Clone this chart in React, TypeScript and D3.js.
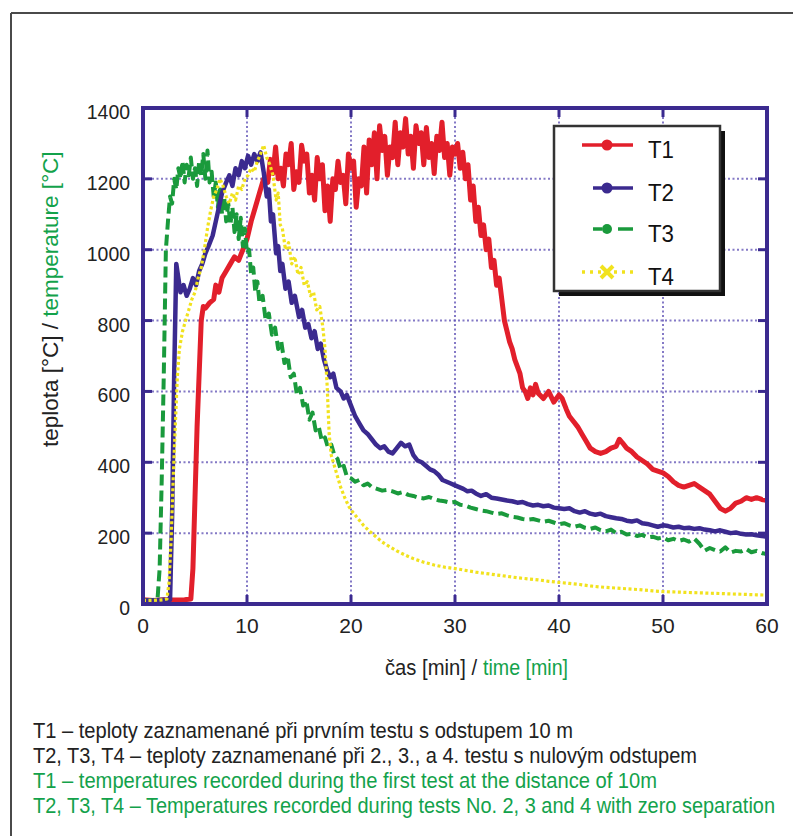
import React from "react";
import * as d3 from "d3";

// ---------------- DATA ----------------
const X_TICKS = [0, 10, 20, 30, 40, 50, 60];
const Y_TICKS = [0, 200, 400, 600, 800, 1000, 1200, 1400];
const SERIES_NAMES = ["T1", "T2", "T3", "T4"];

// T1 – [time min, temperature °C]
const T1: [number, number][] = [
  [0, 12], [1, 10], [2, 12], [3, 11], [4, 12], [4.6, 14], [4.8, 100], [5.0, 300], [5.2, 500], [5.4, 650],
  [5.6, 800], [5.8, 840], [6.0, 835], [6.4, 850], [6.8, 860], [7.0, 900], [7.3, 880], [7.6, 920], [8.0, 940],
  [8.4, 960], [8.8, 980], [9.2, 970], [9.6, 1000], [10.0, 1030], [10.4, 1080], [10.8, 1120], [11.2, 1160],
  [11.6, 1200], [12.0, 1190], [12.25, 1255], [12.5, 1215], [12.75, 1290], [13.0, 1200], [13.25, 1230],
  [13.5, 1180], [13.75, 1270], [14.0, 1240], [14.25, 1300], [14.5, 1170], [14.75, 1220], [15.0, 1190],
  [15.25, 1295], [15.5, 1250], [15.75, 1270], [16.0, 1160], [16.25, 1210], [16.5, 1140], [16.75, 1260],
  [17.0, 1200], [17.25, 1240], [17.5, 1110], [17.75, 1180], [18.0, 1080], [18.25, 1200], [18.5, 1170],
  [18.75, 1250], [19.0, 1190], [19.25, 1210], [19.5, 1130], [19.75, 1270], [20.0, 1230], [20.25, 1250],
  [20.5, 1120], [20.75, 1200], [21.0, 1180], [21.25, 1290], [21.5, 1160], [21.75, 1310], [22.0, 1240],
  [22.25, 1330], [22.5, 1200], [22.75, 1350], [23.0, 1280], [23.25, 1320], [23.5, 1210], [23.75, 1290],
  [24.0, 1260], [24.25, 1360], [24.5, 1240], [24.75, 1330], [25.0, 1290], [25.25, 1370], [25.5, 1270],
  [25.75, 1320], [26.0, 1230], [26.25, 1350], [26.5, 1300], [26.75, 1330], [27.0, 1240], [27.25, 1345],
  [27.5, 1260], [27.75, 1300], [28.0, 1215], [28.25, 1320], [28.5, 1280], [28.75, 1360], [29.0, 1260],
  [29.25, 1300], [29.5, 1210], [29.75, 1290], [30.0, 1270], [30.25, 1300], [30.5, 1230], [30.75, 1275],
  [31.0, 1200], [31.25, 1240], [31.5, 1140], [31.75, 1180], [32.0, 1080], [32.25, 1120], [32.5, 1040],
  [32.75, 1070], [33.0, 1000], [33.25, 1030], [33.5, 950], [33.75, 970], [34.0, 900], [34.25, 920],
  [34.5, 860], [34.75, 800], [35.0, 770], [35.25, 740], [35.5, 720], [35.75, 690], [36.0, 670], [36.25, 650],
  [36.5, 610], [36.75, 600], [37.0, 580], [37.25, 610], [37.5, 590], [37.75, 620], [38.0, 595], [38.5, 580],
  [39.0, 600], [39.5, 570], [40.0, 590], [40.3, 580], [40.7, 550], [41.0, 530], [41.4, 515], [41.8, 500],
  [42.2, 480], [42.6, 460], [43.0, 440], [43.5, 430], [44.0, 425], [44.5, 430], [45.0, 440], [45.5, 445],
  [45.8, 465], [46.1, 455], [46.5, 440], [47.0, 430], [47.5, 415], [48.0, 405], [48.5, 395], [49.0, 380],
  [49.5, 375], [50.0, 370], [50.5, 360], [51.0, 345], [51.5, 335], [52.0, 330], [52.5, 335], [53.0, 340],
  [53.5, 330], [54.0, 320], [54.5, 310], [55.0, 290], [55.5, 270], [56.0, 262], [56.5, 270], [57.0, 285],
  [57.5, 290], [58.0, 300], [58.5, 295], [59.0, 300], [59.5, 295], [60.0, 292],
];

const T2: [number, number][] = [
  [0, 10], [1, 10], [2, 12], [2.6, 12], [2.8, 250], [3.0, 650], [3.2, 960], [3.4, 920], [3.6, 880],
  [3.9, 900], [4.2, 870], [4.5, 890], [4.8, 920], [5.1, 900], [5.4, 940], [5.7, 960], [6.0, 990],
  [6.3, 1010], [6.7, 1040], [7.0, 1080], [7.3, 1120], [7.6, 1160], [8.0, 1190], [8.3, 1210], [8.6, 1180],
  [8.9, 1230], [9.2, 1210], [9.5, 1250], [9.8, 1230], [10.1, 1265], [10.4, 1240], [10.7, 1270],
  [11.0, 1250], [11.3, 1275], [11.6, 1220], [11.9, 1150], [12.1, 1170], [12.3, 1080], [12.5, 1100],
  [12.8, 990], [13.0, 1010], [13.2, 940], [13.4, 960], [13.7, 890], [14.0, 910], [14.3, 850], [14.6, 870],
  [15.0, 810], [15.3, 830], [15.6, 780], [15.9, 790], [16.2, 750], [16.5, 770], [16.8, 720], [17.1, 735],
  [17.4, 690], [17.7, 660], [18.0, 640], [18.3, 650], [18.6, 610], [19.0, 600], [19.3, 580], [19.6, 590],
  [20.0, 560], [20.4, 530], [20.8, 510], [21.2, 490], [21.6, 480], [22.0, 465], [22.4, 450], [22.8, 440],
  [23.2, 445], [23.6, 430], [24.0, 425], [24.4, 440], [24.8, 455], [25.2, 445], [25.6, 450], [26.0, 420],
  [26.4, 405], [26.8, 400], [27.2, 390], [27.6, 380], [28.0, 375], [28.4, 365], [28.8, 350], [29.2, 345],
  [29.6, 340], [30.0, 335], [30.4, 330], [30.8, 325], [31.2, 318], [31.6, 320], [32.0, 312], [32.5, 305],
  [33.0, 310], [33.5, 300], [34.0, 298], [34.5, 295], [35.0, 292], [35.5, 290], [36.0, 286], [36.5, 288],
  [37.0, 282], [37.5, 278], [38.0, 280], [38.5, 276], [39.0, 278], [39.5, 272], [40.0, 270], [40.5, 268],
  [41.0, 270], [41.5, 262], [42.0, 258], [42.5, 262], [43.0, 255], [43.5, 252], [44.0, 255], [44.5, 248],
  [45.0, 245], [45.5, 242], [46.0, 240], [46.5, 235], [47.0, 233], [47.5, 236], [48.0, 228], [48.5, 226],
  [49.0, 222], [49.5, 218], [50.0, 222], [50.5, 220], [51.0, 216], [51.5, 218], [52.0, 214], [52.5, 215],
  [53.0, 212], [53.5, 214], [54.0, 210], [54.5, 208], [55.0, 205], [55.5, 208], [56.0, 204], [56.5, 200],
  [57.0, 202], [57.5, 198], [58.0, 196], [58.5, 197], [59.0, 194], [59.5, 192], [60.0, 190],
];

const T3: [number, number][] = [
  [0, 10], [1.0, 12], [1.4, 15], [1.6, 100], [1.8, 350], [2.0, 650], [2.2, 1000], [2.4, 1080], [2.6, 1150],
  [2.8, 1130], [3.0, 1200], [3.2, 1170], [3.4, 1230], [3.6, 1200], [3.8, 1250], [4.0, 1190], [4.2, 1240],
  [4.4, 1210], [4.6, 1260], [4.8, 1200], [5.0, 1230], [5.2, 1180], [5.4, 1250], [5.6, 1210], [5.8, 1270],
  [6.0, 1200], [6.2, 1280], [6.4, 1190], [6.6, 1220], [6.8, 1150], [7.0, 1190], [7.2, 1120], [7.4, 1170],
  [7.6, 1100], [7.8, 1150], [8.0, 1080], [8.2, 1130], [8.4, 1070], [8.6, 1120], [8.8, 1050], [9.0, 1100],
  [9.2, 1030], [9.4, 1090], [9.6, 1010], [9.8, 1060], [10.0, 990], [10.2, 1000], [10.4, 930], [10.6, 950],
  [10.8, 880], [11.0, 910], [11.2, 850], [11.5, 870], [11.8, 800], [12.1, 820], [12.4, 760], [12.7, 780],
  [13.0, 720], [13.3, 740], [13.6, 680], [13.9, 700], [14.2, 640], [14.5, 650], [14.8, 590], [15.1, 610],
  [15.4, 560], [15.7, 575], [16.0, 520], [16.3, 540], [16.6, 490], [16.9, 500], [17.2, 460], [17.5, 470],
  [17.8, 440], [18.1, 450], [18.4, 420], [18.7, 410], [19.0, 380], [19.3, 390], [19.6, 360], [20.0, 355],
  [20.4, 345], [20.8, 350], [21.2, 335], [21.6, 340], [22.0, 330], [22.5, 325], [23.0, 320], [23.5, 322],
  [24.0, 318], [24.5, 312], [25.0, 316], [25.5, 308], [26.0, 305], [26.5, 300], [27.0, 298], [27.5, 302],
  [28.0, 296], [28.5, 292], [29.0, 290], [29.5, 286], [30.0, 288], [30.5, 280], [31.0, 278], [31.5, 272],
  [32.0, 268], [32.5, 264], [33.0, 262], [33.5, 258], [34.0, 254], [34.5, 256], [35.0, 250], [35.5, 246],
  [36.0, 244], [36.5, 240], [37.0, 238], [37.5, 240], [38.0, 236], [38.5, 232], [39.0, 235], [39.5, 230],
  [40.0, 225], [40.5, 228], [41.0, 222], [41.5, 218], [42.0, 222], [42.5, 215], [43.0, 212], [43.5, 216],
  [44.0, 208], [44.5, 205], [45.0, 210], [45.5, 200], [46.0, 204], [46.5, 196], [47.0, 198], [47.5, 192],
  [48.0, 195], [48.5, 188], [49.0, 190], [49.5, 185], [50.0, 188], [50.5, 180], [51.0, 184], [51.5, 178],
  [52.0, 182], [52.5, 176], [53.0, 185], [53.5, 170], [54.0, 150], [54.5, 158], [55.0, 152], [55.5, 148],
  [56.0, 160], [56.5, 145], [57.0, 150], [57.5, 148], [58.0, 155], [58.5, 146], [59.0, 150], [59.5, 144],
  [60.0, 140],
];

const T4: [number, number][] = [
  [0, 10], [1, 10], [2, 12], [2.3, 14], [2.5, 60], [2.7, 180], [2.9, 350], [3.1, 500], [3.3, 640],
  [3.5, 720], [3.8, 770], [4.1, 800], [4.4, 830], [4.7, 860], [5.0, 880], [5.3, 920], [5.6, 950],
  [5.9, 1000], [6.2, 1060], [6.5, 1110], [6.8, 1150], [7.1, 1170], [7.4, 1200], [7.7, 1180], [8.0, 1150],
  [8.3, 1130], [8.6, 1160], [8.9, 1140], [9.2, 1180], [9.5, 1170], [9.8, 1200], [10.1, 1210], [10.4, 1230],
  [10.7, 1220], [11.0, 1250], [11.3, 1270], [11.6, 1295], [11.9, 1260], [12.2, 1240], [12.5, 1210],
  [12.8, 1140], [13.0, 1160], [13.2, 1070], [13.4, 1060], [13.7, 1000], [14.0, 1020], [14.3, 960],
  [14.6, 980], [14.9, 930], [15.2, 950], [15.5, 900], [15.8, 910], [16.1, 870], [16.4, 880], [16.7, 830],
  [17.0, 840], [17.3, 780], [17.5, 720], [17.7, 620], [17.9, 480], [18.1, 420], [18.4, 390], [18.7, 360],
  [19.0, 330], [19.4, 300], [19.8, 275], [20.2, 258], [20.7, 240], [21.2, 222], [21.8, 205], [22.4, 190],
  [23.0, 175], [23.7, 162], [24.4, 150], [25.2, 138], [26.0, 128], [27.0, 118], [28.0, 110], [29.0, 104],
  [30.0, 100], [31.0, 95], [32.0, 90], [33.0, 86], [34.0, 82], [35.0, 78], [36.0, 74], [37.0, 71],
  [38.0, 68], [39.0, 64], [40.0, 61], [41.0, 58], [42.0, 55], [43.0, 51], [44.0, 48], [45.0, 46],
  [46.0, 44], [47.0, 42], [48.0, 40], [49.0, 37], [50.0, 35], [51.0, 34], [52.0, 33], [53.0, 32],
  [54.0, 31], [55.0, 30], [56.0, 29], [57.0, 28], [58.0, 27], [59.0, 26], [60.0, 25],
];

const CAPTIONS = [
  "T1 – teploty zaznamenané při prvním testu s odstupem 10 m",
  "T2, T3, T4 – teploty zaznamenané při 2., 3., a 4. testu s nulovým odstupem",
  "T1 – temperatures recorded during the first test at the distance of 10m",
  "T2, T3, T4 – Temperatures recorded during tests No. 2, 3 and 4 with zero separation",
];

// ---------------- STYLE ----------------
const FONT = "'Liberation Sans', Arial, sans-serif";
const FRAME = "#3b2a8f";
const GREEN = "#13a24b";
const COLORS = ["#e21f2b", "#3b2a8f", "#1a9a3c", "#f1e21e"];
const WIDTHS = [5, 4.5, 4, 3.2];
const DASHES = ["", "", "11,5", "3,2.5"];
const CAPS = ["round", "round", "butt", "butt"];
const SQUEEZE = 0.8;

export default function App() {
  const W = 793;
  const H = 836;
  const left = 143, right = 767, top = 108, bottom = 604;
  const x = d3.scaleLinear().domain([0, 60]).range([left, right]);
  const y = d3.scaleLinear().domain([0, 1400]).range([bottom, top]);
  const line = d3
    .line<[number, number]>()
    .x((d) => x(d[0]))
    .y((d) => y(d[1]));
  const series = [T1, T2, T3, T4];
  const drawOrder = [0, 2, 1, 3];

  const captionLengths = [540, 664, 624, 742];
  const legendRowsY = [145, 188, 229, 272];

  return (
    <svg
      width={W}
      height={H}
      style={{ position: "absolute", left: 0, top: 0, background: "#fff" }}
      fontFamily={FONT}
    >
      <rect x={0} y={0} width={W} height={H} fill="#fff" />
      {/* outer frame */}
      <line x1={11} y1={13} x2={W} y2={13} stroke="#4a4a4a" strokeWidth={2} />
      <line x1={11} y1={13} x2={11} y2={H} stroke="#4a4a4a" strokeWidth={2} />

      <defs>
        <clipPath id="plotClip">
          <rect x={left} y={top - 2} width={right - left} height={bottom - top + 2} />
        </clipPath>
      </defs>

      {/* grid */}
      {X_TICKS.slice(1, -1).map((t) => (
        <line key={"gx" + t} x1={x(t)} x2={x(t)} y1={top} y2={bottom}
          stroke="#5b4db3" strokeWidth={2} strokeDasharray="2,2.5" opacity={0.75} />
      ))}
      {Y_TICKS.slice(1, -1).map((v) => (
        <line key={"gy" + v} x1={left} x2={right} y1={y(v)} y2={y(v)}
          stroke="#5b4db3" strokeWidth={2} strokeDasharray="2,2.5" opacity={0.75} />
      ))}

      {/* series */}
      <g clipPath="url(#plotClip)">
        {drawOrder.map((i) => (
          <path
            key={"s" + i}
            d={line(series[i]) || ""}
            fill="none"
            stroke={COLORS[i]}
            strokeWidth={WIDTHS[i]}
            strokeDasharray={DASHES[i] || undefined}
            strokeLinejoin="round"
            strokeLinecap={CAPS[i] as any}
          />
        ))}
      </g>

      {/* frame and ticks */}
      <rect x={left} y={top} width={right - left} height={bottom - top} fill="none" stroke={FRAME} strokeWidth={4} />
      {X_TICKS.slice(1, -1).map((t) => (
        <g key={"tx" + t}>
          <line x1={x(t)} x2={x(t)} y1={top} y2={top + 9} stroke={FRAME} strokeWidth={3} />
          <line x1={x(t)} x2={x(t)} y1={bottom} y2={bottom - 9} stroke={FRAME} strokeWidth={3} />
        </g>
      ))}
      {Y_TICKS.slice(1, -1).map((v) => (
        <g key={"ty" + v}>
          <line x1={left} x2={left + 9} y1={y(v)} y2={y(v)} stroke={FRAME} strokeWidth={3} />
          <line x1={right} x2={right - 9} y1={y(v)} y2={y(v)} stroke={FRAME} strokeWidth={3} />
        </g>
      ))}

      {/* tick labels */}
      {Y_TICKS.map((v) => (
        <text key={"ly" + v} x={130} y={y(v) + 11} textAnchor="end" fontSize={21} fill="#222"
          textLength={String(v).length * 10.8} lengthAdjust="spacingAndGlyphs">
          {v}
        </text>
      ))}
      {X_TICKS.map((t) => (
        <text key={"lx" + t} x={x(t)} y={633} textAnchor="middle" fontSize={21} fill="#222">
          {t}
        </text>
      ))}

      {/* axis titles */}
      <g transform={`translate(385,675) scale(${SQUEEZE},1)`}>
        <text x={0} y={0} fontSize={22} fill="#222" textLength={92 / SQUEEZE} lengthAdjust="spacingAndGlyphs">
          čas [min] /
        </text>
        <text x={98 / SQUEEZE} y={0} fontSize={22} fill={GREEN} textLength={85 / SQUEEZE} lengthAdjust="spacingAndGlyphs">
          time [min]
        </text>
      </g>
      <g transform="translate(58,447) rotate(-90)">
        <text x={0} y={0} fontSize={22.5} fill="#222">
          <tspan fill="#222">teplota [°C] / </tspan>
          <tspan fill={GREEN}>temperature [°C]</tspan>
        </text>
      </g>

      {/* legend */}
      <rect x={559} y={131} width={166} height={165} fill="#111" />
      <rect x={554} y={126} width={166} height={165} fill="#fff" stroke="#333" strokeWidth={2.5} />
      {SERIES_NAMES.map((name, i) => {
        const ly = legendRowsY[i];
        return (
          <g key={"lg" + name}>
            {i === 0 && (
              <>
                <line x1={582} x2={633} y1={ly} y2={ly} stroke={COLORS[0]} strokeWidth={3.5} />
                <circle cx={607} cy={ly} r={5.5} fill={COLORS[0]} />
              </>
            )}
            {i === 1 && (
              <>
                <line x1={593} x2={633} y1={ly} y2={ly} stroke={COLORS[1]} strokeWidth={3.5} />
                <circle cx={607} cy={ly} r={5.5} fill={COLORS[1]} />
              </>
            )}
            {i === 2 && (
              <>
                <line x1={593} x2={602} y1={ly} y2={ly} stroke={COLORS[2]} strokeWidth={3.5} />
                <line x1={618} x2={633} y1={ly} y2={ly} stroke={COLORS[2]} strokeWidth={3.5} />
                <circle cx={607} cy={ly} r={5} fill={COLORS[2]} />
              </>
            )}
            {i === 3 && (
              <>
                <line x1={582} x2={633} y1={ly} y2={ly} stroke={COLORS[3]} strokeWidth={3.5} strokeDasharray="3,5" />
                <path d={`M${601},${ly - 6}L${613},${ly + 6}M${613},${ly - 6}L${601},${ly + 6}`} stroke={COLORS[3]} strokeWidth={4} />
              </>
            )}
            <g transform={`translate(648,${ly + 13}) scale(${SQUEEZE},1)`}>
              <text x={0} y={0} fontSize={24} fill="#111" textLength={26 / SQUEEZE} lengthAdjust="spacingAndGlyphs">
                {name}
              </text>
            </g>
          </g>
        );
      })}

      {/* captions */}
      {CAPTIONS.map((c, i) => (
        <g key={"c" + i} transform={`translate(33,${738 + i * 25}) scale(${SQUEEZE},1)`}>
          <text
            x={0}
            y={0}
            fontSize={22}
            fill={i < 2 ? "#222" : GREEN}
            textLength={captionLengths[i] / SQUEEZE}
            lengthAdjust="spacingAndGlyphs"
          >
            {c}
          </text>
        </g>
      ))}
    </svg>
  );
}
